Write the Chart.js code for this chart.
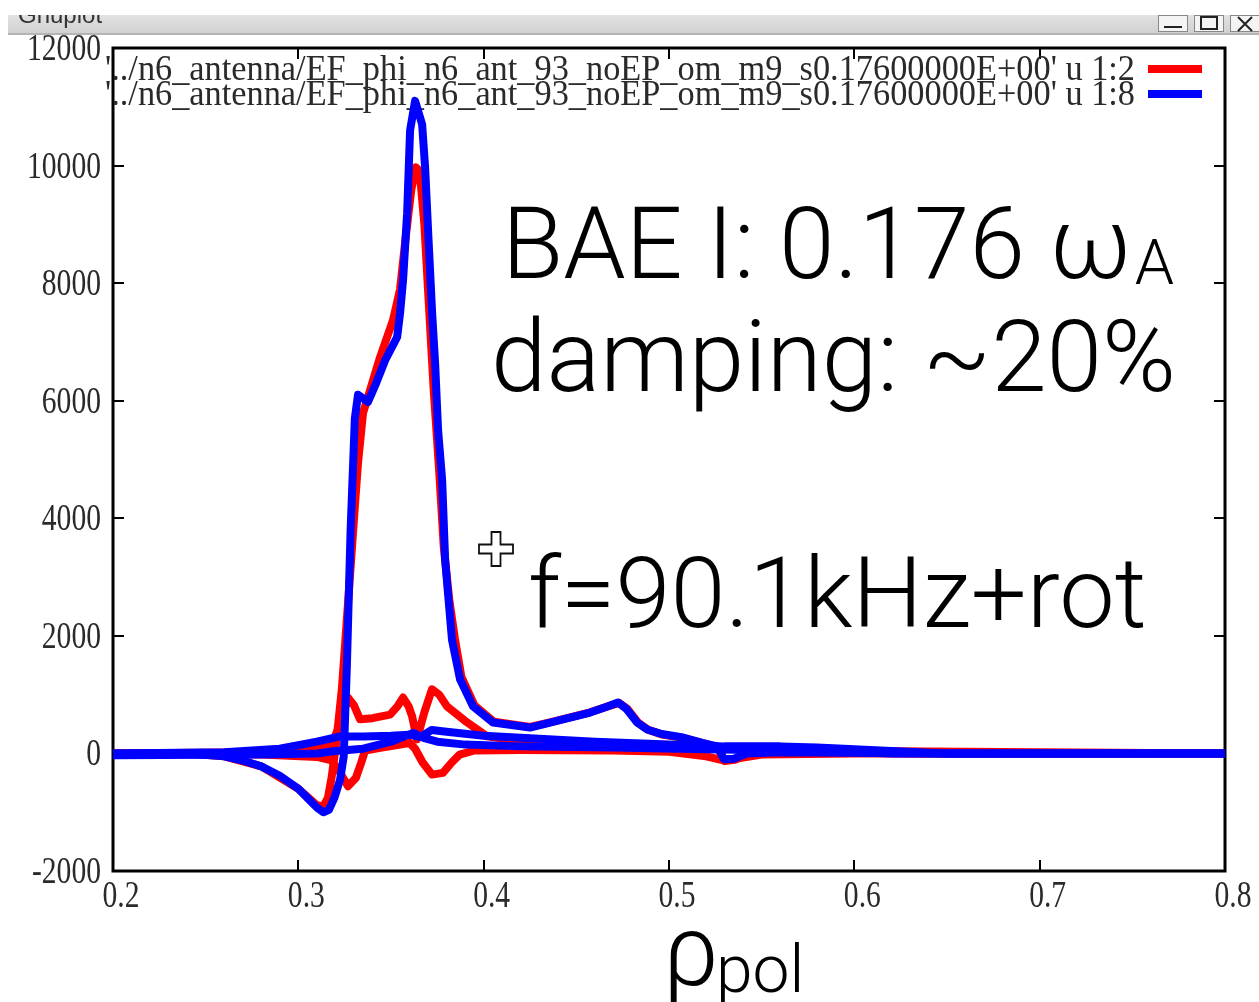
<!DOCTYPE html>
<html>
<head>
<meta charset="utf-8">
<script src="https://cdn.jsdelivr.net/npm/chart.js@4.4.0/dist/chart.umd.min.js"></script>
<style>
  html, body { margin: 0; padding: 0; background: #fff; }
  canvas { display: block; }
</style>
</head>
<body>
<canvas id="efChart" width="1259" height="1002"></canvas>
<script>
// axis ticks
const xTicks = [0.2, 0.3, 0.4, 0.5, 0.6, 0.7, 0.8];
const yTicks = [-2000, 0, 2000, 4000, 6000, 8000, 10000, 12000];

// key entries (gnuplot "using" columns)
const keyTitles = [
  "'../n6_antenna/EF_phi_n6_ant_93_noEP_om_m9_s0.17600000E+00' u 1:2",
  "'../n6_antenna/EF_phi_n6_ant_93_noEP_om_m9_s0.17600000E+00' u 1:8"
];

// column 8, main mode profile
const blueMainX = [0.20, 0.24, 0.26, 0.27, 0.28, 0.29, 0.30, 0.305, 0.310, 0.3135, 0.3165, 0.3195, 0.3225, 0.3245,
  0.3262, 0.3282, 0.3305, 0.3322, 0.3376, 0.342, 0.347, 0.3533, 0.3549, 0.3565, 0.3587, 0.3603, 0.3630, 0.3668,
  0.3684, 0.3700, 0.3722, 0.3738, 0.3754, 0.3776, 0.3792, 0.3829, 0.3873, 0.3943, 0.4051, 0.425, 0.4358, 0.4574,
  0.4660, 0.4725, 0.4770, 0.4828, 0.4882, 0.4960, 0.5076, 0.5180, 0.5260, 0.5297, 0.5350, 0.5420, 0.5600, 0.6500, 0.8000];
const blueMainY = [0, 0, -50, -120, -220, -380, -600, -760, -920, -1000, -960, -750, -450, -50,
  1500, 3800, 5700, 6100, 5980, 6300, 6700, 7080, 7490, 8050, 9190, 10600, 11100, 10700,
  9970, 8900, 7490, 6640, 5500, 4650, 3300, 1935, 1256, 800, 525, 440, 526, 696,
  790, 866, 760, 526, 407, 330, 270, 180, 120, -100, -90, 0, 20, 0, 0];

// column 8, weaker profiles near the axis
const blueLowX = [0.20, 0.26, 0.29, 0.31, 0.3225, 0.335, 0.35, 0.36, 0.366, 0.372, 0.38, 0.40, 0.43, 0.46, 0.50, 0.53, 0.56, 0.58, 0.62, 0.65, 0.80];
const blueLowY = [0, 20, 80, 200, 290, 290, 300, 320, 280, 400, 370, 300, 250, 200, 150, 120, 120, 100, 40, 0, 0];
const blueLow2X = [0.20, 0.28, 0.31, 0.32, 0.335, 0.35, 0.362, 0.368, 0.375, 0.39, 0.42, 0.47, 0.52, 0.58, 0.62, 0.80];
const blueLow2Y = [-30, -20, 0, 40, 80, 200, 350, 260, 200, 150, 120, 100, 70, 40, 0, 0];

// column 2, main mode profile
const redMainX = [0.20, 0.24, 0.26, 0.28, 0.30, 0.31, 0.3135, 0.316, 0.318, 0.3205, 0.3235, 0.326, 0.3285,
  0.3305, 0.3322, 0.3349, 0.3387, 0.3441, 0.3511, 0.3549, 0.358, 0.361, 0.3635, 0.3655, 0.368, 0.3705, 0.373,
  0.376, 0.3785, 0.3815, 0.3845, 0.388, 0.3950, 0.4055, 0.425, 0.4358, 0.4574, 0.4660, 0.4730, 0.4775, 0.4835,
  0.4890, 0.4965, 0.5080, 0.5185, 0.5265, 0.5300, 0.5355, 0.5425, 0.5600, 0.6500, 0.8000];
const redMainY = [0, 0, -50, -220, -600, -880, -900, -750, -400, 200, 1100, 2200, 3300,
  4200, 4940, 5790, 6180, 6740, 7370, 7900, 8800, 9600, 9970, 9900, 9000, 7600, 6200,
  4800, 3500, 2600, 1950, 1300, 820, 540, 450, 530, 700, 790, 860, 760, 520,
  400, 320, 260, 170, 100, -130, -110, 0, 20, 0, 0];

// column 2, weaker profiles near the axis
const redUpX = [0.20, 0.28, 0.31, 0.318, 0.3225, 0.3268, 0.3300, 0.3333, 0.3400, 0.3495, 0.3535, 0.3565, 0.3595,
  0.3614, 0.3640, 0.3680, 0.3721, 0.3760, 0.3802, 0.3910, 0.4018, 0.4130, 0.44, 0.48, 0.52, 0.56, 0.80];
const redUpY = [0, 20, 80, 150, 500, 950, 820, 580, 600, 660, 800, 950, 800,
  630, 240, 700, 1090, 1000, 800, 530, 290, 240, 200, 150, 100, 50, 0];
const redDownX = [0.20, 0.28, 0.31, 0.318, 0.322, 0.3268, 0.331, 0.334, 0.336, 0.345, 0.355, 0.36, 0.363, 0.367,
  0.3721, 0.378, 0.3829, 0.387, 0.395, 0.42, 0.47, 0.50, 0.52, 0.53, 0.55, 0.60, 0.80];
const redDownY = [0, -20, -60, -120, -300, -560, -420, -150, 50, 100, 150, 180, 80, -150,
  -360, -330, -150, -20, 50, 60, 50, 30, -50, -120, -20, 0, 0];

const zip = (xs, ys) => xs.map((x, i) => ({ x: x, y: ys[i] }));

const lineStyle = (color) => ({
  showLine: true,
  borderColor: color,
  backgroundColor: color,
  borderWidth: 8,
  pointRadius: 0,
  tension: 0,
  fill: false,
  borderJoinStyle: 'round',
  borderCapStyle: 'round'
});

const RED = '#ff0000';
const BLUE = '#0000ff';
const serif = '"Liberation Serif", "DejaVu Serif", serif';
const sans = 'Roboto, "Liberation Sans", sans-serif';

// condensed gnuplot-ish text
function drawNarrow(ctx, text, x, y, size, sx, align) {
  ctx.save();
  ctx.font = size + 'px ' + serif;
  ctx.translate(x, y);
  ctx.scale(sx, 1);
  ctx.textAlign = align;
  ctx.textBaseline = 'alphabetic';
  ctx.fillStyle = '#2a2a2a';
  ctx.fillText(text, 0, 0);
  ctx.restore();
}

const gnuplotWindow = {
  id: 'gnuplotWindow',
  beforeDraw(chart) {
    const ctx = chart.ctx;
    ctx.save();
    ctx.fillStyle = '#fff';
    ctx.fillRect(0, 0, chart.width, chart.height);

    // window title bar
    const g = ctx.createLinearGradient(0, 15, 0, 35);
    g.addColorStop(0, '#e2e2e2');
    g.addColorStop(1, '#cfcfcf');
    ctx.fillStyle = g;
    ctx.fillRect(8, 15, chart.width - 8, 19);
    ctx.fillStyle = '#b5b5b5';
    ctx.fillRect(8, 33, chart.width - 8, 2);
    ctx.beginPath();
    ctx.rect(8, 15, 200, 19);
    ctx.clip();
    ctx.fillStyle = '#333';
    ctx.font = '24px "Liberation Sans", sans-serif';
    ctx.fillText('Gnuplot', 18, 23);
    ctx.restore();

    // window buttons
    ctx.save();
    ctx.strokeStyle = '#888';
    ctx.lineWidth = 1;
    [1158, 1194, 1230].forEach((bx) => {
      ctx.fillStyle = '#f4f4f4';
      ctx.fillRect(bx, 15, 30, 17);
      ctx.strokeRect(bx + 0.5, 15.5, 29, 16);
    });
    ctx.strokeStyle = '#222';
    ctx.lineWidth = 2;
    ctx.beginPath();
    ctx.moveTo(1164, 27); ctx.lineTo(1182, 27);
    ctx.strokeRect(1201, 17, 16, 12);
    ctx.moveTo(1238, 17); ctx.lineTo(1252, 31);
    ctx.moveTo(1252, 17); ctx.lineTo(1238, 31);
    ctx.stroke();
    ctx.restore();
  },
  beforeDatasetsDraw(chart) {
    const ctx = chart.ctx;
    const a = chart.chartArea;
    const xs = chart.scales.x;
    const ys = chart.scales.y;
    ctx.save();
    ctx.strokeStyle = '#000';
    ctx.lineWidth = 3;
    ctx.strokeRect(a.left, a.top, a.right - a.left, a.bottom - a.top);

    // tick marks, mirrored on all four sides
    ctx.lineWidth = 2;
    ctx.beginPath();
    xTicks.forEach((v) => {
      const px = Math.round(xs.getPixelForValue(v));
      ctx.moveTo(px, a.bottom); ctx.lineTo(px, a.bottom - 11);
      ctx.moveTo(px, a.top); ctx.lineTo(px, a.top + 11);
    });
    yTicks.forEach((v) => {
      const py = Math.round(ys.getPixelForValue(v));
      ctx.moveTo(a.left, py); ctx.lineTo(a.left + 11, py);
      ctx.moveTo(a.right, py); ctx.lineTo(a.right - 11, py);
    });
    ctx.stroke();
    ctx.restore();

    // tick labels
    xTicks.forEach((v) => {
      drawNarrow(chart.ctx, v.toFixed(1), xs.getPixelForValue(v) + 8, a.bottom + 36, 37, 0.8, 'center');
    });
    yTicks.forEach((v) => {
      drawNarrow(chart.ctx, String(v), a.left - 12, ys.getPixelForValue(v) + 12, 37, 0.8, 'right');
    });

    // key
    keyTitles.forEach((t, i) => {
      const y = 80 + i * 25;
      ctx.save();
      ctx.font = '36px ' + serif;
      const w = ctx.measureText(t).width;
      ctx.restore();
      drawNarrow(ctx, t, 1135, y, 36, 1030 / w, 'right');
      ctx.save();
      ctx.strokeStyle = i === 0 ? RED : BLUE;
      ctx.lineWidth = 8;
      ctx.beginPath();
      ctx.moveTo(1148, y - 11);
      ctx.lineTo(1202, y - 11);
      ctx.stroke();
      ctx.restore();
    });
  },
  afterDraw(chart) {
    const ctx = chart.ctx;
    ctx.save();
    ctx.fillStyle = '#000';
    ctx.textBaseline = 'alphabetic';
    ctx.textAlign = 'left';

    ctx.font = '300 100px ' + sans;
    const head = 'BAE I: 0.176 ';
    ctx.fillText(head, 502, 278);
    const wHead = ctx.measureText(head).width;
    ctx.fillText('\u03c9', 502 + wHead, 278);
    const wOmega = ctx.measureText('\u03c9').width;
    ctx.font = '300 63px ' + sans;
    ctx.fillText('A', 502 + wHead + wOmega + 3, 284);

    ctx.font = '300 100px ' + sans;
    ctx.fillText('damping: ~20%', 491, 391);
    ctx.font = '300 99px ' + sans;
    ctx.fillText('f=90.1kHz+rot', 528, 627);

    // axis title
    ctx.font = '300 100px ' + sans;
    ctx.fillText('\u03c1', 663, 985);
    ctx.font = '300 66px ' + sans;
    ctx.fillText('pol', 716, 992);

    // mouse cursor
    const cx = 496, cy = 549, L = 17, W = 4.5;
    ctx.beginPath();
    ctx.moveTo(cx - W, cy - L); ctx.lineTo(cx + W, cy - L); ctx.lineTo(cx + W, cy - W);
    ctx.lineTo(cx + L, cy - W); ctx.lineTo(cx + L, cy + W); ctx.lineTo(cx + W, cy + W);
    ctx.lineTo(cx + W, cy + L); ctx.lineTo(cx - W, cy + L); ctx.lineTo(cx - W, cy + W);
    ctx.lineTo(cx - L, cy + W); ctx.lineTo(cx - L, cy - W); ctx.lineTo(cx - W, cy - W);
    ctx.closePath();
    ctx.fillStyle = '#fff';
    ctx.fill();
    ctx.strokeStyle = '#111';
    ctx.lineWidth = 1.8;
    ctx.stroke();
    ctx.restore();
  }
};

const chart = new Chart(document.getElementById('efChart'), {
  type: 'scatter',
  data: {
    datasets: [
      { label: 'u 1:8', data: zip(blueMainX, blueMainY), ...lineStyle(BLUE) },
      { label: 'u 1:8 b', data: zip(blueLowX, blueLowY), ...lineStyle(BLUE) },
      { label: 'u 1:8 c', data: zip(blueLow2X, blueLow2Y), ...lineStyle(BLUE) },
      { label: 'u 1:2', data: zip(redMainX, redMainY), ...lineStyle(RED) },
      { label: 'u 1:2 b', data: zip(redUpX, redUpY), ...lineStyle(RED) },
      { label: 'u 1:2 c', data: zip(redDownX, redDownY), ...lineStyle(RED) }
    ]
  },
  options: {
    responsive: false,
    animation: false,
    events: [],
    layout: { padding: { left: 113, top: 48, right: 34, bottom: 131 } },
    plugins: {
      legend: { display: false },
      tooltip: { enabled: false }
    },
    scales: {
      x: { type: 'linear', min: 0.2, max: 0.8, display: false },
      y: { type: 'linear', min: -2000, max: 12000, display: false }
    }
  },
  plugins: [gnuplotWindow]
});
</script>
</body>
</html>
